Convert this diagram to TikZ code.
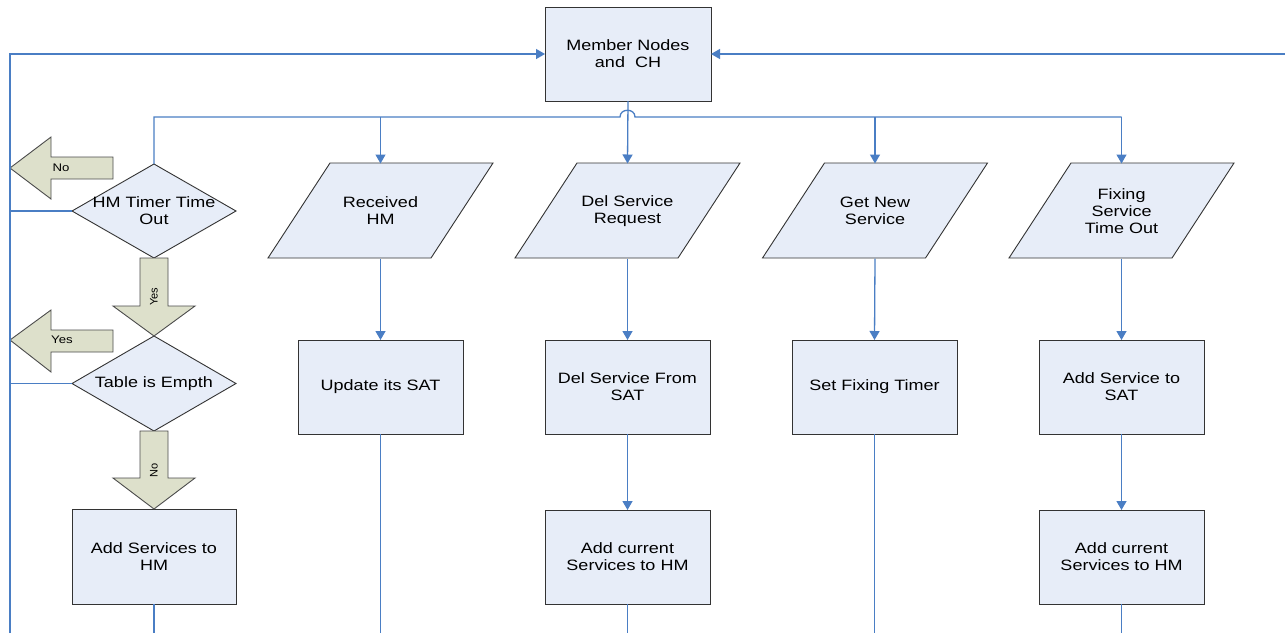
\documentclass[tikz,border=0pt]{standalone}
\usepackage{fontspec}
\setmainfont[FakeStretch=1.2]{Liberation Sans}
\newfontfamily\plainsf{Liberation Sans}
\usetikzlibrary{arrows.meta}
\definecolor{boxfill}{HTML}{E7EDF8}
\definecolor{arrfill}{HTML}{DDE0CB}
\definecolor{linecol}{HTML}{4A7EC4}
\newcommand{\paraframe}[3]{%
  \path[fillshape] ({#2-112.5},258) -- ({#2-50.5},163) -- ({#2+112.5},163) -- ({#2+50.5},258) -- cycle;
  \node[txt,minimum height=95pt,minimum width=100pt] (#1) at (#2,211) {#3};}
\begin{document}
\begin{tikzpicture}[x=1pt,y=-1pt,
  flowbox/.style={draw=black!80,fill=boxfill,line width=0.9pt,minimum width=165pt,minimum height=94pt,inner sep=0pt,outer sep=0pt,align=center,font=\fontsize{15}{17}\selectfont},
  fillshape/.style={draw=black!80,fill=boxfill,line width=0.9pt},
  txt/.style={inner sep=0pt,outer sep=0pt,align=center,font=\fontsize{15}{17}\selectfont},
  blockarrow/.style={draw=black!70,fill=arrfill,line width=0.9pt},
  arrlabel/.style={inner sep=0pt,font=\fontsize{11}{13}\selectfont},
  rotlabel/.style={inner sep=0pt,rotate=90,font=\plainsf\fontsize{11}{12}\selectfont},
  link/.style={draw=linecol,line width=1.3pt},
  linkarrow/.style={link,-{Triangle[length=9pt,width=10pt]}}]
\useasboundingbox[fill=white] (0,0) rectangle (1285,633);

% top box
\node[flowbox,minimum width=166pt] (top) at (628,54) {Member Nodes\\and\ \ CH};

% column 1
\path[fillshape] (154,164) -- (236,211) -- (154,258) -- (72,211) -- cycle;
\node[txt,minimum width=164pt,minimum height=94pt] (d1) at (154,211) {HM Timer Time\\Out};
\path[fillshape] (154,336) -- (236,383.5) -- (154,431) -- (72,383.5) -- cycle;
\node[txt,minimum width=164pt,minimum height=95pt] (d2) at (154,383.5) {Table is Empth};
\node[flowbox,minimum width=164pt,minimum height=95pt] (a1) at (154,556.5) {Add Services to\\HM};

% columns 2-5
\paraframe{p2}{380.5}{Received\\HM}
\paraframe{p3}{627.5}{Del Service\\Request}
\paraframe{p4}{875}{Get New\\Service}
\paraframe{p5}{1121.5}{Fixing\\Service\\Time Out}

\node[flowbox] (u2) at (380.5,387) {Update its SAT};
\node[flowbox] (b3) at (627.5,387) {Del Service From\\SAT};
\node[flowbox] (c3) at (627.5,557) {Add current\\Services to HM};
\node[flowbox] (b4) at (874.5,387) {Set Fixing Timer};
\node[flowbox] (b5) at (1121.5,387) {Add Service to\\SAT};
\node[flowbox] (c5) at (1121.5,557) {Add current\\Services to HM};

% block arrows
\path[blockarrow] (10,168) -- (51,137) -- (51,157) -- (113,157) -- (113,179) -- (51,179) -- (51,199) -- cycle;
\node[arrlabel] (no1) at (61,168) {No};
\path[blockarrow] (10,340) -- (51,310) -- (51,330) -- (113,330) -- (113,352) -- (51,352) -- (51,372) -- cycle;
\node[arrlabel] (yes2) at (62,340) {Yes};
\path[blockarrow] (140,258) -- (168,258) -- (168,306) -- (195,306) -- (154,336) -- (113,306) -- (140,306) -- cycle;
\node[rotlabel] (yes1) at (154,297) {Yes};
\path[blockarrow] (140,431) -- (168,431) -- (168,478) -- (195,478) -- (154,509) -- (113,478) -- (140,478) -- cycle;
\node[rotlabel] (no2) at (154,470) {No};

% connectors
\coordinate (lb) at (10,633);
\coordinate (rb) at (1285,54);
\coordinate (bus) at (627.5,117);
\draw[linkarrow] (lb) |- (top.west);
\draw[linkarrow] (rb) -- (top.east);
\draw[link] (d1.west) -- (d1.west -| lb);
\draw[link] (d2.west) -- (d2.west -| lb);
\draw[link] (d1.north) |- ([xshift=-7.5pt]bus) .. controls ([xshift=-7.5pt,yshift=9pt]bus) and ([xshift=7.5pt,yshift=9pt]bus) .. ([xshift=7.5pt]bus) -- (bus -| p5.north);
\draw[linkarrow] (top.south) -- (p3.north);
\draw[linkarrow] (bus -| p2.north) -- (p2.north);
\draw[linkarrow] (bus -| p4.north) -- (p4.north);
\draw[linkarrow] (bus -| p5.north) -- (p5.north);
\draw[linkarrow] (p2.south) -- (u2.north);
\draw[linkarrow] (p3.south) -- (b3.north);
\draw[linkarrow] (p4.south) -- (b4.north);
\draw[linkarrow] (p5.south) -- (b5.north);
\draw[linkarrow] (b3.south) -- (c3.north);
\draw[linkarrow] (b5.south) -- (c5.north);
\draw[link] (a1.south) -- (a1.south |- lb);
\draw[link] (u2.south) -- (u2.south |- lb);
\draw[link] (c3.south) -- (c3.south |- lb);
\draw[link] (b4.south) -- (b4.south |- lb);
\draw[link] (c5.south) -- (c5.south |- lb);
\end{tikzpicture}
\end{document}
